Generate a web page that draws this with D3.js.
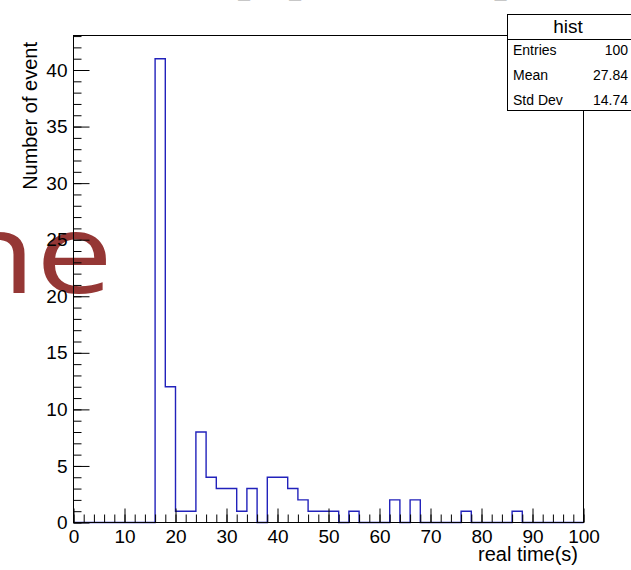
<!DOCTYPE html>
<html>
<head>
<meta charset="utf-8">
<script src="https://cdn.jsdelivr.net/npm/d3@7"></script>
<style>
  body { margin: 0; background: #fff; }
  svg { display: block; }
  text { font-family: "Liberation Sans", Arial, sans-serif; }
</style>
</head>
<body>
<svg id="chart" width="631" height="570"></svg>
<script>
// histogram "hist": 50 bins on [0, 100]
const xRange = [0, 100];
const counts = [
  0, 0, 0, 0, 0, 0, 0, 0, 41, 12,
  1, 1, 8, 4, 3, 3, 1, 3, 0, 4,
  4, 3, 2, 1, 1, 1, 0, 1, 0, 0,
  0, 2, 0, 2, 0, 0, 0, 0, 1, 0,
  0, 0, 0, 1, 0, 0, 0, 0, 0, 0
];
const xTicks = [0, 10, 20, 30, 40, 50, 60, 70, 80, 90, 100];
const yTicks = [0, 5, 10, 15, 20, 25, 30, 35, 40];
const statLabels = ["Entries", "Mean", "Std Dev"];
const statValues = ["100", "27.84", "14.74"];

const svg = d3.select("#chart");

// slide text sitting behind the transparent canvas
svg.append("text")
  .attr("transform", "translate(113,293) scale(1.23,1)")
  .attr("text-anchor", "end")
  .style("font-family", "'Open Sans', sans-serif")
  .style("font-size", "112px")
  .attr("fill", "#953735")
  .text("ne");

// title, cut off at the top: only descenders show
let title = svg.append("text").attr("y", -4).style("font-size", "21px").attr("fill", "#222");
[["Delay", 97], ["top", 175], ["run_", 208], ["hit_", 267], ["distribution of", 303], ["time_", 455], ["all", 508]]
  .forEach(p => title.append("tspan").attr("x", p[1]).text(p[0]));

const padL = 73.5, padR = 583.5, padT = 35.5, padB = 522.5;
const nBins = counts.length;
const binW = (xRange[1] - xRange[0]) / nBins;
const yMax = d3.max(counts) * 1.05;

const x = d3.scaleLinear().domain(xRange).range([padL, padR]);
const y = d3.scaleLinear().domain([0, yMax]).range([padB, padT]);

// outline of the histogram, dropping to zero between bins
let pts = [[xRange[0], 0]];
counts.forEach((c, i) => {
  let lo = xRange[0] + i * binW;
  pts.push([lo, c], [lo + binW, c]);
});
pts.push([xRange[1], 0]);

let line = d3.line().x(d => x(d[0])).y(d => y(d[1]));

svg.append("path")
  .attr("d", line(pts))
  .attr("fill", "none")
  .attr("stroke", "#2222bb")
  .attr("stroke-width", 1.4);

// axes (ticks point inward like ROOT)
let yMinor = d3.range(0, Math.floor(yMax) + 1);
svg.append("g").attr("transform", `translate(${padL},0)`)
  .call(d3.axisLeft(y).tickValues(yMinor).tickSize(-8).tickFormat(""));
svg.append("g").attr("transform", `translate(${padL},0)`)
  .call(d3.axisLeft(y).tickValues(yTicks).tickSize(-16).tickPadding(6).tickFormat(d3.format("d")));

let xMinor = d3.range(xRange[0], xRange[1] + 1, 2);
svg.append("g").attr("transform", `translate(0,${padB})`)
  .call(d3.axisBottom(x).tickValues(xMinor).tickSize(-8).tickFormat(""));
svg.append("g").attr("transform", `translate(0,${padB})`)
  .call(d3.axisBottom(x).tickValues(xTicks).tickSize(-14).tickPadding(7).tickFormat(d3.format("d")));

svg.selectAll(".domain").remove();
svg.selectAll(".tick line").attr("stroke", "#000");
svg.selectAll(".tick text").style("font-size", "19px").attr("fill", "#000")
  .style("font-family", "'Liberation Sans', Arial, sans-serif");

// frame
svg.append("rect")
  .attr("x", padL).attr("y", padT)
  .attr("width", padR - padL).attr("height", padB - padT)
  .attr("fill", "none").attr("stroke", "#000");

// axis titles
svg.append("text")
  .attr("x", 578).attr("y", 561)
  .attr("text-anchor", "end")
  .style("font-size", "20px")
  .text("real time(s)");

svg.append("text")
  .attr("transform", "translate(37,42) rotate(-90)")
  .attr("text-anchor", "end")
  .style("font-size", "20px")
  .text("Number of event");

// stats box
let st = svg.append("g");
st.append("rect")
  .attr("x", 507.5).attr("y", 14.5).attr("width", 140).attr("height", 96)
  .attr("fill", "#fff").attr("stroke", "#000");
st.append("line")
  .attr("x1", 507.5).attr("x2", 640).attr("y1", 39.5).attr("y2", 39.5)
  .attr("stroke", "#000");
st.append("text")
  .attr("x", 568).attr("y", 33)
  .attr("text-anchor", "middle")
  .style("font-size", "19px")
  .text("hist");
statLabels.forEach((lab, i) => {
  st.append("text").attr("x", 513).attr("y", 55 + i * 25)
    .style("font-size", "14px").text(lab);
  st.append("text").attr("x", 628).attr("y", 55 + i * 25)
    .attr("text-anchor", "end")
    .style("font-size", "14px").text(statValues[i]);
});
</script>
</body>
</html>
